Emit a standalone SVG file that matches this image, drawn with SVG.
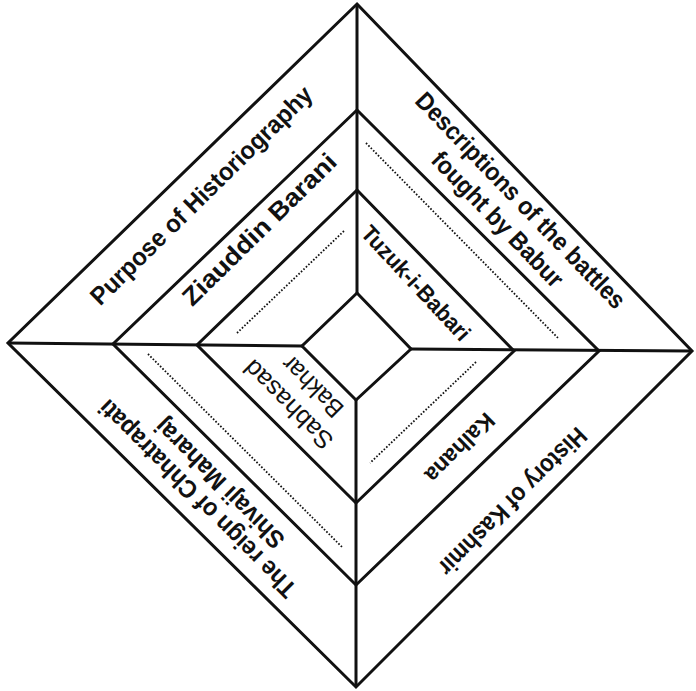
<svg xmlns="http://www.w3.org/2000/svg" width="696" height="691" viewBox="0 0 696 691">
<style>
.edge{fill:none;stroke:#111;stroke-width:3;stroke-linejoin:miter}
.div{stroke:#111;stroke-width:3;fill:none}
.dot{stroke:#111;stroke-width:1.8;stroke-dasharray:1.6 1.8;fill:none}
.lb{font-family:"Liberation Sans",Arial,sans-serif;font-size:25px;font-weight:bold;fill:#111;text-anchor:middle;dominant-baseline:central}
.lm{font-family:"Liberation Sans",Arial,sans-serif;font-size:23px;font-weight:bold;fill:#111;text-anchor:middle;dominant-baseline:central}
.lr{font-family:"Liberation Sans",Arial,sans-serif;font-size:25px;font-weight:normal;fill:#111;text-anchor:middle;dominant-baseline:central}
</style>
<rect width="696" height="691" fill="#fff"/>
<g id="connectors">
<line class="div" x1="8" y1="343" x2="302" y2="346"/>
<line class="div" x1="411" y1="349" x2="692" y2="351"/>
<line class="div" x1="357" y1="4" x2="357" y2="293"/>
<line class="div" x1="356" y1="400" x2="356" y2="687"/>
</g>
<g id="outer-diamond"><polygon class="edge" points="357,4 692,351 356,687 8,343"/></g>
<g id="middle-diamond"><polygon class="edge" points="357,110 599,351 356,585 113,344"/></g>
<g id="inner-diamond"><polygon class="edge" points="357,190 514,351 356,503 197,345"/></g>
<g id="centre-square"><polygon class="edge" points="357,293 411,349 356,400 302,346"/></g>
<g id="blanks">
<line class="dot" x1="237" y1="333" x2="345" y2="230"/>
<line class="dot" x1="366" y1="143" x2="558" y2="338"/>
<line class="dot" x1="148" y1="354" x2="343" y2="548"/>
<line class="dot" x1="476" y1="362" x2="370" y2="463"/>
</g>
<g id="top-left">
<text class="lb" transform="translate(201,195) rotate(-44.5)" textLength="300" lengthAdjust="spacingAndGlyphs">Purpose of Historiography</text>
<text class="lb" transform="translate(259,229) rotate(-44.5)" textLength="205" lengthAdjust="spacingAndGlyphs">Ziauddin Barani</text>
</g>
<g id="top-right">
<text class="lb" transform="translate(521,200) rotate(46)" textLength="290" lengthAdjust="spacingAndGlyphs">Descriptions of the battles</text>
<text class="lb" transform="translate(498,219) rotate(46)" textLength="178" lengthAdjust="spacingAndGlyphs">fought by Babur</text>
<text class="lm" transform="translate(416,283) rotate(47)" textLength="148" lengthAdjust="spacingAndGlyphs">Tuzuk-i-Babari</text>
</g>
<g id="bottom-right">
<text class="lb" transform="translate(513,502) rotate(135)" textLength="198" lengthAdjust="spacingAndGlyphs">History of Kashmir</text>
<text class="lm" transform="translate(460,448) rotate(135)" textLength="88" lengthAdjust="spacingAndGlyphs">Kalhana</text>
</g>
<g id="bottom-left">
<text class="lb" transform="translate(197,499) rotate(225)" textLength="268" lengthAdjust="spacingAndGlyphs">The reign of Chhatrapati</text>
<text class="lb" transform="translate(219,484) rotate(225)" textLength="172" lengthAdjust="spacingAndGlyphs">Shivaji Maharaj</text>
<text class="lr" transform="translate(288,405) rotate(225)" textLength="115" lengthAdjust="spacingAndGlyphs">Sabhasad</text>
<text class="lr" transform="translate(312,387) rotate(225)" textLength="76" lengthAdjust="spacingAndGlyphs">Bakhar</text>
</g>
</svg>
